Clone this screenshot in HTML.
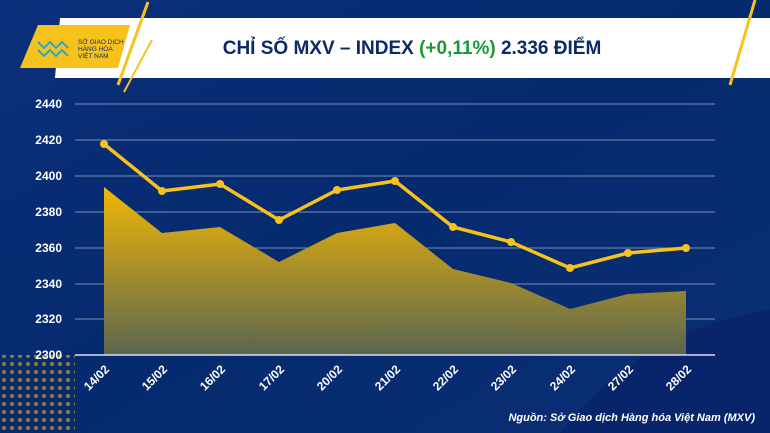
<!DOCTYPE html><html><head><meta charset="utf-8"><style>body{margin:0}svg{display:block}</style></head><body>
<svg width="770" height="433" xmlns="http://www.w3.org/2000/svg" font-family="Liberation Sans, sans-serif">
<defs>
<linearGradient id="bg" x1="0" y1="0" x2="1" y2="1"><stop offset="0" stop-color="#0b2f7a"/><stop offset="0.5" stop-color="#062a6e"/><stop offset="1" stop-color="#0a2f75"/></linearGradient>
<linearGradient id="ar" x1="0" y1="0" x2="0" y2="1"><stop offset="0" stop-color="#f2b705"/><stop offset="1" stop-color="#5a6650"/></linearGradient>
<pattern id="dots" width="8" height="8" patternUnits="userSpaceOnUse"><circle cx="4" cy="4" r="2" fill="#f5b400"/></pattern>
</defs>
<rect width="770" height="433" fill="url(#bg)"/>
<path d="M560 433 Q640 330 770 310 L770 433Z" fill="#08246a"/>
<rect x="0" y="355" width="75" height="78" fill="url(#dots)" opacity="0.6"/>
<polygon points="60,18 770,18 770,78 55,78" fill="#fff"/>
<polygon points="38,25 130,25 118,68 20,68" fill="#f7c21b"/>
<line x1="148" y1="2" x2="118" y2="85" stroke="#f7c21b" stroke-width="3"/>
<line x1="152" y1="40" x2="124" y2="92" stroke="#f7c21b" stroke-width="2"/>
<line x1="755" y1="0" x2="730" y2="85" stroke="#f7c21b" stroke-width="3"/>
<text x="78" y="44" font-size="6.5" fill="#0b2f7a">SỞ GIAO DỊCH</text>
<text x="78" y="51" font-size="6.5" fill="#0b2f7a">HÀNG HÓA</text>
<text x="78" y="58" font-size="6.5" fill="#0b2f7a">VIỆT NAM</text>
<path d="M38 42 l6 6 l6 -6 l6 6 l6 -6 l6 6 M38 50 l6 6 l6 -6 l6 6 l6 -6 l6 6" stroke="#2aa7c9" stroke-width="2" fill="none"/>
<text x="412" y="54" font-size="19" font-weight="bold" text-anchor="middle" fill="#0b2a66">CHỈ SỐ MXV – INDEX <tspan fill="#1a9a35">(+0,11%)</tspan> 2.336 ĐIỂM</text>
<g stroke="#9fb0d3" stroke-width="0.8">
<line x1="75" x2="715" y1="104" y2="104"/><line x1="75" x2="715" y1="140" y2="140"/><line x1="75" x2="715" y1="176" y2="176"/><line x1="75" x2="715" y1="212" y2="212"/><line x1="75" x2="715" y1="248" y2="248"/><line x1="75" x2="715" y1="284" y2="284"/><line x1="75" x2="715" y1="319" y2="319"/>
</g>
<g fill="#fff" font-size="12" font-weight="bold" text-anchor="end">
<text x="62" y="108">2440</text><text x="62" y="144">2420</text><text x="62" y="180">2400</text><text x="62" y="216">2380</text><text x="62" y="252">2360</text><text x="62" y="288">2340</text><text x="62" y="323">2320</text><text x="62" y="359">2300</text>
</g>
<polygon points="104,355 104,187 162,233 220,227 279,262 337,233 395,223 453,269 511,283 570,309 628,294 686,291 686,355" fill="url(#ar)"/>
<line x1="75" x2="715" y1="355" y2="355" stroke="#dde" stroke-width="1.5"/>
<polyline points="104,144 162,191 220,184 279,220 337,190 395,181 453,227 511,242 570,268 628,253 686,248" fill="none" stroke="#f7c21b" stroke-width="3.5"/>
<g fill="#f7c21b"><circle cx="104" cy="144" r="4"/><circle cx="162" cy="191" r="4"/><circle cx="220" cy="184" r="4"/><circle cx="279" cy="220" r="4"/><circle cx="337" cy="190" r="4"/><circle cx="395" cy="181" r="4"/><circle cx="453" cy="227" r="4"/><circle cx="511" cy="242" r="4"/><circle cx="570" cy="268" r="4"/><circle cx="628" cy="253" r="4"/><circle cx="686" cy="248" r="4"/></g>
<g fill="#fff" font-size="12" font-weight="bold" text-anchor="end">
<text transform="translate(110,370) rotate(-45)">14/02</text><text transform="translate(168,370) rotate(-45)">15/02</text><text transform="translate(226,370) rotate(-45)">16/02</text><text transform="translate(285,370) rotate(-45)">17/02</text><text transform="translate(343,370) rotate(-45)">20/02</text><text transform="translate(401,370) rotate(-45)">21/02</text><text transform="translate(459,370) rotate(-45)">22/02</text><text transform="translate(517,370) rotate(-45)">23/02</text><text transform="translate(576,370) rotate(-45)">24/02</text><text transform="translate(634,370) rotate(-45)">27/02</text><text transform="translate(692,370) rotate(-45)">28/02</text>
</g>
<text x="755" y="421" font-size="11" font-weight="bold" font-style="italic" fill="#fff" text-anchor="end">Nguồn: Sở Giao dịch Hàng hóa Việt Nam (MXV)</text>
</svg>
</body></html>
